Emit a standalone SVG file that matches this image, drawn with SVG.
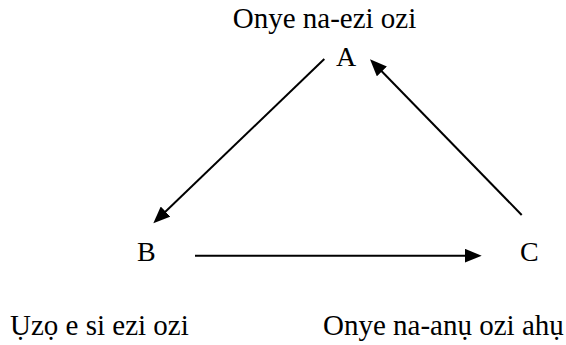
<svg xmlns="http://www.w3.org/2000/svg" width="566" height="345" viewBox="0 0 566 345">
<style>
text { font-family: "Liberation Serif", "Times New Roman", serif; font-size: 28px; fill: #000; }
.lbl { font-size: 29px; }
.edge { stroke: #000; stroke-width: 2; fill: none; marker-end: url(#arrow); }
</style>
<defs>
<marker id="arrow" markerUnits="userSpaceOnUse" markerWidth="17" markerHeight="14" viewBox="0 0 17 14" refX="9" refY="7" orient="auto">
<path d="M0,0 L17,7 L0,14 z" fill="#000"/>
</marker>
</defs>
<rect width="566" height="345" fill="#fff"/>
<g id="nodeA">
<text class="lbl" x="324.5" y="28" text-anchor="middle">Onye na-ezi ozi</text>
<text x="346" y="66" text-anchor="middle">A</text>
</g>
<g id="nodeB">
<text x="137" y="261">B</text>
<text class="lbl" x="10" y="335">Ụzọ e si ezi ozi</text>
</g>
<g id="nodeC">
<text x="520" y="261">C</text>
<text class="lbl" x="323" y="335">Onye na-anụ ozi ahụ</text>
</g>
<g id="connectors">
<line class="edge" x1="324.3" y1="59" x2="159.1" y2="217.8"/>
<line class="edge" x1="195" y1="255.7" x2="473.7" y2="255.7"/>
<line class="edge" x1="521.7" y1="215" x2="375.6" y2="65"/>
</g>
</svg>
